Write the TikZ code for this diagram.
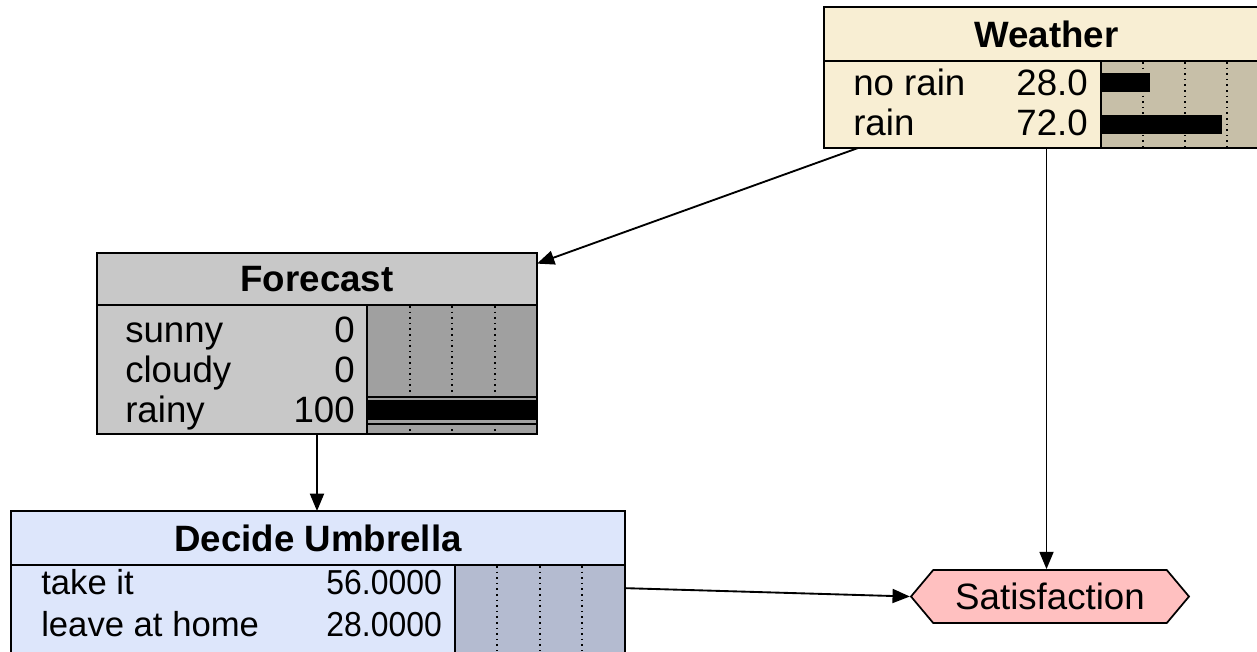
\documentclass[tikz,border=0pt]{standalone}
\usepackage{fontspec}
\setmainfont{Liberation Sans}
\usetikzlibrary{shapes.symbols, arrows.meta}

\definecolor{weatherCream}{HTML}{F8EED3}
\definecolor{weatherBar}{HTML}{C7BFA8}
\definecolor{forecastGray}{HTML}{C8C8C8}
\definecolor{forecastBar}{HTML}{A0A0A0}
\definecolor{decideBlue}{HTML}{DDE6FB}
\definecolor{decideBar}{HTML}{B4BBD0}
\definecolor{satPink}{HTML}{FFC0C0}

\begin{document}
\begin{tikzpicture}[x=0.75pt,y=-0.75pt]
	\tikzstyle{Head} = [rectangle, anchor=north west, inner sep=0, outer sep=0, draw=black, line width=1.6pt, font=\bfseries\fontsize{27.5}{30}\selectfont]
	\tikzstyle{Body} = [rectangle, anchor=north west, inner sep=0, outer sep=0, draw=black, line width=1.6pt]
	\tikzstyle{Row} = [inner sep=0, font=\fontsize{27.5}{30}\selectfont]
	\tikzstyle{SmallRow} = [inner sep=0, font=\fontsize{26}{30}\selectfont]
	\tikzstyle{Bar} = [rectangle, anchor=north west, inner sep=0, outer sep=0, fill=black]
	\tikzstyle{gridLine} = [line width=1.1pt, dash pattern=on 1.2pt off 3pt]
	\tikzstyle{arrow} = [line width=1.4pt, -{Triangle[length=13pt, width=10.5pt]}]

	\useasboundingbox (0,0) rectangle (1257,651);
	\clip (0,0) rectangle (1257,651);

	% Weather
	\node (weatherHead) [Head, fill=weatherCream, minimum width=333.75pt, minimum height=40.5pt] at (824,7) {Weather};
	\node (weatherBody) [Body, fill=weatherCream, minimum width=333.75pt, minimum height=65.25pt] at (824,61) {};
	\node (weatherBars) [Body, fill=weatherBar, minimum width=126pt, minimum height=65.25pt] at (1101,61) {};
	\foreach \x in {1143,1185,1227}
		\draw [gridLine] (\x,62) -- (\x,147);
	\node (noRainBar) [Bar, minimum width=36.75pt, minimum height=14.25pt] at (1101,73) {};
	\node (rainBar) [Bar, minimum width=90.75pt, minimum height=14.25pt] at (1101,115) {};
	\node (noRainLabel) [Row, anchor=base west] at (853,95) {no rain};
	\node (noRainValue) [Row, anchor=base east] at (1088,95) {28.0};
	\node (rainLabel) [Row, anchor=base west] at (853,135) {rain};
	\node (rainValue) [Row, anchor=base east] at (1088,135) {72.0};

	% Forecast
	\node (forecastHead) [Head, fill=forecastGray, minimum width=330pt, minimum height=39pt] at (97,253) {Forecast};
	\node (forecastBody) [Body, fill=forecastGray, minimum width=330pt, minimum height=96.75pt] at (97,305) {};
	\node (forecastBars) [Body, fill=forecastBar, minimum width=127.5pt, minimum height=96.75pt] at (367,305) {};
	\foreach \x in {410,452,495}
		\draw [gridLine] (\x,306) -- (\x,433);
	\node (rainyFrame) [Body, draw=black, line width=0.9pt, fill=forecastBar, minimum width=127.5pt, minimum height=20.25pt] at (367,397) {};
	\node (rainyBar) [Bar, minimum width=127.5pt, minimum height=15pt] at (367,400) {};
	\node (sunnyLabel) [Row, anchor=base west] at (125,342) {sunny};
	\node (sunnyValue) [Row, anchor=base east] at (355,342) {0};
	\node (cloudyLabel) [Row, anchor=base west] at (125,382) {cloudy};
	\node (cloudyValue) [Row, anchor=base east] at (355,382) {0};
	\node (rainyLabel) [Row, anchor=base west] at (125,422) {rainy};
	\node (rainyValue) [Row, anchor=base east] at (355,422) {100};

	% Decide Umbrella
	\node (decideHead) [Head, fill=decideBlue, minimum width=460.5pt, minimum height=40.5pt] at (11,511) {Decide Umbrella};
	\node (decideBody) [Body, fill=decideBlue, minimum width=460.5pt, minimum height=75pt] at (11,565) {};
	\node (decideBars) [Body, fill=decideBar, minimum width=127.5pt, minimum height=75pt] at (455,565) {};
	\foreach \x in {497,540,582}
		\draw [gridLine] (\x,566) -- (\x,651);
	\node (takeLabel) [SmallRow, anchor=base west] at (41,594) {take it};
	\node (takeValue) [SmallRow, anchor=base east, xscale=0.92] at (442,594) {56.0000};
	\node (leaveLabel) [SmallRow, anchor=base west] at (41,636) {leave at home};
	\node (leaveValue) [SmallRow, anchor=base east, xscale=0.92] at (442,636) {28.0000};

	% Satisfaction
	\node (satNode) [signal, signal to=west and east, signal pointer angle=100, draw=black, line width=1.3pt, fill=satPink, minimum width=208.5pt, minimum height=39.75pt, inner sep=0, font=\fontsize{27.5}{30}\selectfont] at (1050,596.5) {Satisfaction};

	\draw [arrow] (weatherBody.-167) -- (forecastHead.4);
	\draw [arrow] (weatherBody.south) -- (weatherBody.south |- satNode.north);
	\draw [arrow] (forecastBody.south) -- (forecastBody.south |- decideHead.north);
	\draw [arrow] (decideBody.5) -- (satNode.west);
\end{tikzpicture}
\end{document}
